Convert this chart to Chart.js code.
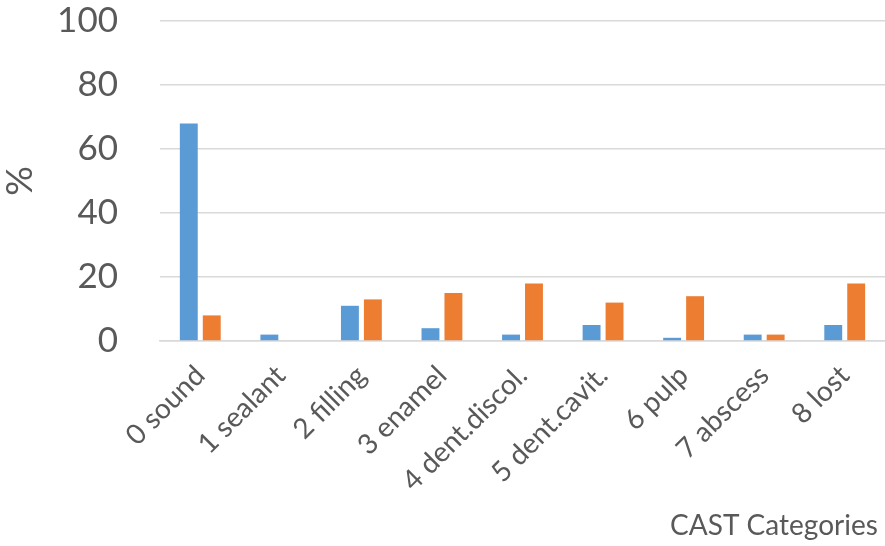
<!DOCTYPE html>
<html lang="en">
<head>
    <meta charset="UTF-8">
    <title>CAST Categories</title>
    <script src="https://cdn.jsdelivr.net/npm/chart.js"></script>
    <style>
        html, body { margin: 0; padding: 0; background: #fff; }
        #wrap { width: 885px; height: 546px; }
    </style>
</head>
<body>
    <div id="wrap"><canvas id="myChart"></canvas></div>

    <script>
        // values (percent)
        const categories = ['0 sound', '1 sealant', '2 filling', '3 enamel', '4 dent.discol.',
                            '5 dent.cavit.', '6 pulp', '7 abscess', '8 lost'];
        const blueValues = [68, 2, 11, 4, 2, 5, 1, 2, 5];
        const orangeValues = [8, 0, 13, 15, 18, 12, 14, 2, 18];
        const yTicks = [0, 20, 40, 60, 80, 100];

        const textColor = '#595959';
        const gridColor = '#d9d9d9';

        const ctx = document.getElementById('myChart').getContext('2d');
        new Chart(ctx, {
            type: 'bar',
            data: {
                labels: categories,
                datasets: [{
                    label: 'Series 1',
                    data: blueValues,
                    backgroundColor: '#5b9bd5'
                }, {
                    label: 'Series 2',
                    data: orangeValues,
                    backgroundColor: '#ed7d31'
                }]
            },
            options: {
                responsive: true,
                maintainAspectRatio: false,
                animation: false,
                datasets: {
                    bar: { categoryPercentage: 0.57, barPercentage: 0.78 }
                },
                layout: { padding: 0 },
                plugins: {
                    legend: { display: false },
                    tooltip: { enabled: false }
                },
                scales: {
                    x: {
                        grid: { display: false, drawTicks: false },
                        border: { color: gridColor, width: 1.5 },
                        ticks: {
                            color: textColor,
                            font: { family: 'Lato', size: 28 },
                            minRotation: 45,
                            maxRotation: 45,
                            padding: 18
                        },
                        title: {
                            display: true,
                            text: 'CAST Categories ',
                            align: 'end',
                            color: textColor,
                            font: { family: 'Lato', size: 28, lineHeight: 1.2 },
                            padding: { top: 0, bottom: 3 }
                        },
                        afterFit: scale => {
                            scale.height = 205;
                            scale.paddingLeft = 0;
                            scale.paddingRight = 0;
                            scale.paddingTop = 0;
                            scale.paddingBottom = 0;
                        }
                    },
                    y: {
                        min: 0,
                        max: 100,
                        afterBuildTicks: scale => { scale.ticks = yTicks.map(v => ({ value: v })); },
                        grid: { color: gridColor, lineWidth: 1.5, drawTicks: false },
                        border: { display: false },
                        ticks: {
                            color: textColor,
                            font: { family: 'Lato', size: 35 },
                            padding: 42
                        },
                        title: {
                            display: true,
                            text: '%',
                            color: textColor,
                            font: { family: 'Lato', size: 37, lineHeight: 1.0 },
                            padding: { top: 2, bottom: 0 }
                        },
                        afterFit: scale => {
                            scale.width = 160;
                            scale.paddingTop = 21;
                            scale.paddingBottom = 0;
                            scale.paddingLeft = 0;
                            scale.paddingRight = 0;
                        }
                    }
                }
            }
        });
    </script>
</body>
</html>
